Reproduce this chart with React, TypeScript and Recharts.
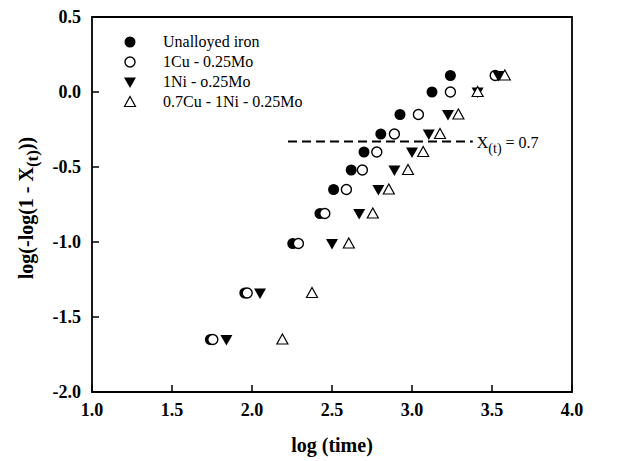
import React from 'react';
import { ScatterChart, Scatter, XAxis, YAxis, ReferenceArea, ReferenceLine, Legend } from 'recharts';

const seriesNames = ['Unalloyed iron', '1Cu - 0.25Mo', '1Ni - o.25Mo', '0.7Cu - 1Ni - 0.25Mo'];
const yLevels = [-1.65, -1.34, -1.01, -0.81, -0.65, -0.52, -0.40, -0.28, -0.15, 0.0, 0.11];
const xUnalloyed = [1.74, 1.955, 2.255, 2.425, 2.51, 2.62, 2.70, 2.805, 2.925, 3.125, 3.24];
const xCuMo = [1.755, 1.97, 2.29, 2.455, 2.59, 2.69, 2.78, 2.89, 3.04, 3.24, 3.52];
const xNiMo = [1.84, 2.05, 2.50, 2.67, 2.79, 2.89, 3.0, 3.105, 3.225, 3.41, 3.54];
const xCuNiMo = [2.19, 2.375, 2.605, 2.755, 2.855, 2.975, 3.07, 3.175, 3.29, 3.41, 3.58];
const xTicks = [1.0, 1.5, 2.0, 2.5, 3.0, 3.5, 4.0];
const yTicks = [-2.0, -1.5, -1.0, -0.5, 0.0, 0.5];
const refLevel = -0.33;
const refStart = 2.225;
const refEnd = 3.38;

const toPts = (xs: number[]) => xs.map((x, i) => ({ x, y: yLevels[i] }));

const FONT = '"Liberation Serif", "Times New Roman", serif';

const FilledCircle = (p: any) => <circle cx={p.cx} cy={p.cy} r={5.5} fill="#000" />;
const OpenCircle = (p: any) => (
  <circle cx={p.cx} cy={p.cy} r={5} fill="#fff" stroke="#000" strokeWidth={1.4} />
);
const DownTri = (p: any) => (
  <polygon
    points={`${p.cx - 6},${p.cy - 4.5} ${p.cx + 6},${p.cy - 4.5} ${p.cx},${p.cy + 6}`}
    fill="#000"
  />
);
const UpTri = (p: any) => (
  <polygon
    points={`${p.cx - 5.5},${p.cy + 4.5} ${p.cx + 5.5},${p.cy + 4.5} ${p.cx},${p.cy - 5.5}`}
    fill="#fff"
    stroke="#000"
    strokeWidth={1.2}
  />
);

const shapes = [FilledCircle, OpenCircle, DownTri, UpTri];

const XTick = (p: any) => {
  const { x, y, payload } = p;
  return (
    <g>
      <line x1={x} y1={y} x2={x} y2={y - 7} stroke="#000" strokeWidth={1.5} />
      <text x={x} y={y + 24} textAnchor="middle" fontFamily={FONT} fontWeight="bold" fontSize={18} fill="#000">
        {payload.value.toFixed(1)}
      </text>
    </g>
  );
};

const YTick = (p: any) => {
  const { x, y, payload } = p;
  return (
    <g>
      <line x1={x} y1={y} x2={x + 7} y2={y} stroke="#000" strokeWidth={1.5} />
      <text x={x - 11} y={y + 6} textAnchor="end" fontFamily={FONT} fontWeight="bold" fontSize={18} fill="#000">
        {payload.value.toFixed(1)}
      </text>
    </g>
  );
};

const XTitle = (p: any) => {
  const vb = p.viewBox;
  return (
    <text x={vb.x + vb.width / 2} y={vb.y + 60} textAnchor="middle" fontFamily={FONT} fontWeight="bold" fontSize={20} fill="#000">
      log (time)
    </text>
  );
};

const YTitle = () => {
  const cx = 33;
  const cy = 208;
  return (
    <text x={cx} y={cy} transform={`rotate(-90, ${cx}, ${cy})`} textAnchor="middle" fontFamily={FONT} fontWeight="bold" fontSize={20} fill="#000">
      <tspan>log(-log(1 - X</tspan>
      <tspan fontSize={17} dy={5}>(t)</tspan>
      <tspan dy={-5}>))</tspan>
    </text>
  );
};

const RefLabel = (p: any) => {
  const vb = p.viewBox;
  const x = vb.x + vb.width + 4;
  const y = vb.y + 6;
  return (
    <text x={x} y={y} fontFamily={FONT} fontSize={16} fill="#000">
      <tspan>X</tspan>
      <tspan fontSize={14} dy={5}>(t)</tspan>
      <tspan dy={-5}> = 0.7</tspan>
    </text>
  );
};

const LegendMarker = ({ i }: { i: number }) => {
  const S = shapes[i];
  return (
    <svg width={16} height={16} style={{ display: 'block' }}>
      <S cx={8} cy={8} />
    </svg>
  );
};

const LegendContent = () => (
  <div style={{ fontFamily: FONT, fontSize: 16, color: '#000' }}>
    {seriesNames.map((n, i) => (
      <div key={n} style={{ display: 'flex', alignItems: 'center', height: 20 }}>
        <LegendMarker i={i} />
        <span style={{ marginLeft: 25, whiteSpace: 'nowrap' }}>{n}</span>
      </div>
    ))}
  </div>
);

const seriesX = [xUnalloyed, xCuMo, xNiMo, xCuNiMo];

export default function App() {
  return (
    <div style={{ position: 'absolute', left: 0, top: 0, background: '#fff' }}>
      <ScatterChart width={630} height={461} margin={{ top: 17, right: 58, left: 0, bottom: 0 }}>
        <XAxis
          type="number"
          dataKey="x"
          domain={[1, 4]}
          ticks={xTicks}
          interval={0}
          axisLine={false}
          tickLine={false}
          tickSize={0}
          tickMargin={0}
          height={69}
          tick={<XTick />}
          label={<XTitle />}
        />
        <YAxis
          type="number"
          dataKey="y"
          domain={[-2, 0.5]}
          ticks={yTicks}
          interval={0}
          axisLine={false}
          tickLine={false}
          tickSize={0}
          tickMargin={0}
          width={92}
          tick={<YTick />}
          label={<YTitle />}
        />
        <ReferenceArea x1={1} x2={4} y1={-2} y2={0.5} fill="none" stroke="#000" strokeWidth={1.8} />
        <ReferenceLine
          segment={[{ x: refStart, y: refLevel }, { x: refEnd, y: refLevel }]}
          stroke="#000"
          strokeWidth={2}
          strokeDasharray="9 5"
          label={<RefLabel />}
        />
        {seriesNames.map((n, i) => (
          <Scatter
            key={n}
            name={n}
            data={toPts(seriesX[i])}
            shape={shapes[i]}
            isAnimationActive={false}
          />
        ))}
        <Legend
          verticalAlign="middle"
          align="center"
          layout="vertical"
          content={<LegendContent />}
          wrapperStyle={{ left: 122, top: 32, width: 260 }}
        />
      </ScatterChart>
    </div>
  );
}
